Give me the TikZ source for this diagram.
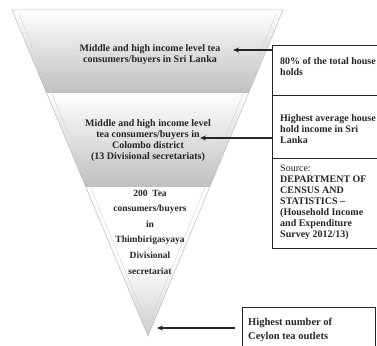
\documentclass[tikz,border=0pt]{standalone}
\usepackage{fontspec}
\setmainfont{Liberation Serif}
\usetikzlibrary{arrows.meta}
\begin{document}
\begin{tikzpicture}[x=1pt,y=-1pt,
  bandtxt/.style={font=\fontsize{10}{11}\selectfont\bfseries, align=center, inner sep=0pt, text=black!85},
  boxtxt/.style={font=\fontsize{10}{11}\selectfont\bfseries, align=left, anchor=north west, inner sep=0pt, text=black!85},
  infobox/.style={draw=black!85, line width=0.8pt, anchor=north west, inner sep=0pt},
  arr/.style={-{Stealth[length=6pt,width=5pt]}, line width=1.1pt, draw=black!85},
  rim/.style={draw=gray!55, line width=0.5pt}]
\useasboundingbox (0,0) rectangle (377,345);
\clip (0,0) rectangle (377,345);
% funnel bands
\shade[top color=white, bottom color=gray!50] (12,10) -- (283,10) -- (248.6,93) -- (46.6,93) -- cycle;
\shade[top color=white, middle color=gray!12, bottom color=gray!50] (46.6,93) -- (248.6,93) -- (209.7,187) -- (85.8,187) -- cycle;
\fill[white] (85.8,187) -- (209.7,187) -- (148,336) -- cycle;
\shade[top color=white, bottom color=gray!40] (117.1,262) -- (178.6,262) -- (148,336) -- cycle;
% rims
\draw[rim] (12,10) -- (283,10) -- (148,336) -- cycle;
\draw[draw=gray!35, line width=0.4pt] (19,14) -- (148,326) -- (276,14);
% band texts
\node[bandtxt] (t1) at (150,55) {Middle and high income level tea\\consumers/buyers in Sri Lanka};
\node[bandtxt] (t2) at (148,134) {Middle and high income level\\tea consumers/buyers in\\Colombo district};
\node[bandtxt] (t2b) at (148,157) {(13 Divisional secretariats)};
\node[bandtxt, font=\fontsize{9.5}{15.6}\selectfont\bfseries] (t3) at (150,232) {200~ Tea\\consumers/buyers\\in\\Thimbirigasyaya\\Divisional\\secretariat};
% info boxes
\node[infobox, minimum width=120pt, minimum height=50pt] (b1) at (272,45) {};
\node[infobox, minimum width=120pt, minimum height=63pt] (b2) at (272,95) {};
\node[infobox, minimum width=120pt, minimum height=90pt] (b3) at (272,158) {};
\node[infobox, minimum width=133pt, minimum height=45pt] (b4) at (242,307) {};
\node[boxtxt] (x1) at (280,57.5) {80\% of the total house\\holds};
\node[boxtxt] (x2) at (280,114) {Highest average house\\hold income in Sri\\Lanka};
\node[boxtxt] (x3) at (280,164.5) {\mdseries Source:\\DEPARTMENT OF\\CENSUS AND\\STATISTICS –\\(Household Income\\and Expenditure\\Survey 2012/13)};
\node[boxtxt, font=\fontsize{10.5}{14}\selectfont\bfseries] (x4) at (248,317.5) {Highest number of\\Ceylon tea outlets};
% arrows
\coordinate (p1) at (233,50);
\coordinate (p2) at (200,138);
\coordinate (p3) at (157,328);
\draw[arr] (p1 -| b1.west) -- (p1);
\draw[arr] (p2 -| b2.west) -- (p2);
\draw[arr, shorten <=7pt] (p3 -| b4.west) -- (p3);
\end{tikzpicture}
\end{document}
